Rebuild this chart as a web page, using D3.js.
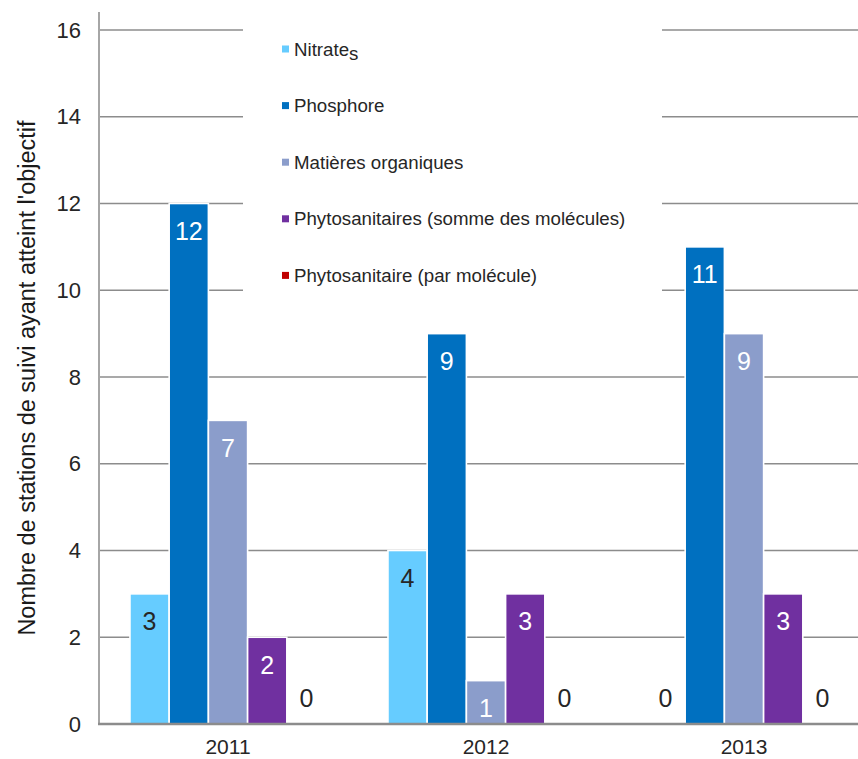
<!DOCTYPE html>
<html><head><meta charset="utf-8">
<script src="https://cdn.jsdelivr.net/npm/d3@7"></script>
<style>
html,body{margin:0;padding:0;background:#fff;}
svg{display:block;font-family:"Liberation Sans",Arial,sans-serif;}
</style></head>
<body>
<svg id="chart" width="858" height="759"></svg>
<script>
const years = ["2011","2012","2013"];
const seriesNames = ["Nitrates","Phosphore","Matières organiques","Phytosanitaires (somme des molécules)","Phytosanitaire (par molécule)"];
const seriesColors = ["#66CCFF","#0070C0","#8B9DCB","#7030A0","#C00000"];
const labelColors = ["#262626","#ffffff","#ffffff","#ffffff","#ffffff"];
const nitrates = [3,4,0];
const phosphore = [12,9,11];
const matieres = [7,1,9];
const phytoSomme = [2,3,3];
const phytoMolecule = [0,0,0];
const yTicks = [0,2,4,6,8,10,12,14,16];
const yTitle = "Nombre de stations de suivi ayant atteint l'objectif";

const series = [nitrates, phosphore, matieres, phytoSomme, phytoMolecule];
const svg = d3.select("#chart");

const x0 = d3.scaleBand().domain(years).range([99, 873]).paddingInner(0.24).paddingOuter(0.12);
const x1 = d3.scaleBand().domain(d3.range(series.length)).range([0, x0.bandwidth()]);
const y = d3.scaleLinear().domain([0,16]).range([724, 30]);

// gridlines
svg.append("g").selectAll("line").data(yTicks.filter(t=>t>0)).join("line")
  .attr("x1",99).attr("x2",858).attr("y1",d=>y(d)).attr("y2",d=>y(d))
  .attr("stroke","#8c8c8c").attr("stroke-width",1.6);

// legend background
svg.append("rect").attr("x",243).attr("y",18).attr("width",419).attr("height",278).attr("fill","#fff");

// bars
const data = [];
years.forEach((yr,i)=>series.forEach((s,j)=>data.push({yr, j, v:s[i]})));
const barG = svg.append("g");
barG.selectAll("rect").data(data.filter(d=>d.v>0)).join("rect")
  .attr("x",d=>x0(d.yr)+x1(d.j)).attr("width",x1.bandwidth())
  .attr("y",d=>y(d.v)).attr("height",d=>y(0)-y(d.v))
  .attr("fill",d=>seriesColors[d.j]).attr("stroke","#fff").attr("stroke-width",1.6);

// value labels
barG.selectAll("text").data(data).join("text")
  .attr("x",d=>x0(d.yr)+x1(d.j)+x1.bandwidth()/2)
  .attr("y",d=> d.v>0 ? y(d.v)+36.5 : y(0)-17)
  .attr("text-anchor","middle").attr("font-size",25)
  .attr("fill",d=> d.v>0 ? labelColors[d.j] : "#262626")
  .text(d=>d.v);

// axes lines
svg.append("line").attr("x1",99).attr("x2",99).attr("y1",12).attr("y2",725)
  .attr("stroke","#a6a6a6").attr("stroke-width",2);
svg.append("line").attr("x1",98).attr("x2",858).attr("y1",724).attr("y2",724)
  .attr("stroke","#8c8c8c").attr("stroke-width",2.5);

// y tick labels
const yAxis = d3.axisLeft(y).tickValues(yTicks).tickSize(0).tickPadding(18);
const gy = svg.append("g").attr("transform","translate(99,0)").call(yAxis);
gy.select(".domain").remove();
gy.selectAll("text").attr("font-size",22).attr("fill","#262626").attr("font-family","Liberation Sans, Arial, sans-serif");

// x labels
const xAxis = d3.axisBottom(x0).tickSize(0).tickPadding(15);
const gx = svg.append("g").attr("transform","translate(0,724)").call(xAxis);
gx.select(".domain").remove();
gx.selectAll("text").attr("font-size",21).attr("fill","#262626").attr("font-family","Liberation Sans, Arial, sans-serif");

// y title
svg.append("text").attr("transform","translate(35,378) rotate(-90)")
  .attr("text-anchor","middle").attr("font-size",23.5).attr("fill","#1a1a1a").text(yTitle);

// legend
const lg = svg.append("g");
const items = lg.selectAll("g").data(seriesNames).join("g")
  .attr("transform",(d,i)=>`translate(282,${49+i*56.6})`);
items.append("rect").attr("x",0).attr("y",-3.5).attr("width",7).attr("height",7).attr("fill",(d,i)=>seriesColors[i]);
items.append("text").attr("x",12).attr("y",0).attr("dy","0.35em").attr("font-size",18.7).attr("fill","#262626")
  .each(function(d,i){
    const t = d3.select(this);
    if(i===0){
      t.append("tspan").text(d.slice(0,-1));
      t.append("tspan").attr("dy",4).text(d.slice(-1));
    } else t.text(d);
  });
</script>
</body></html>
